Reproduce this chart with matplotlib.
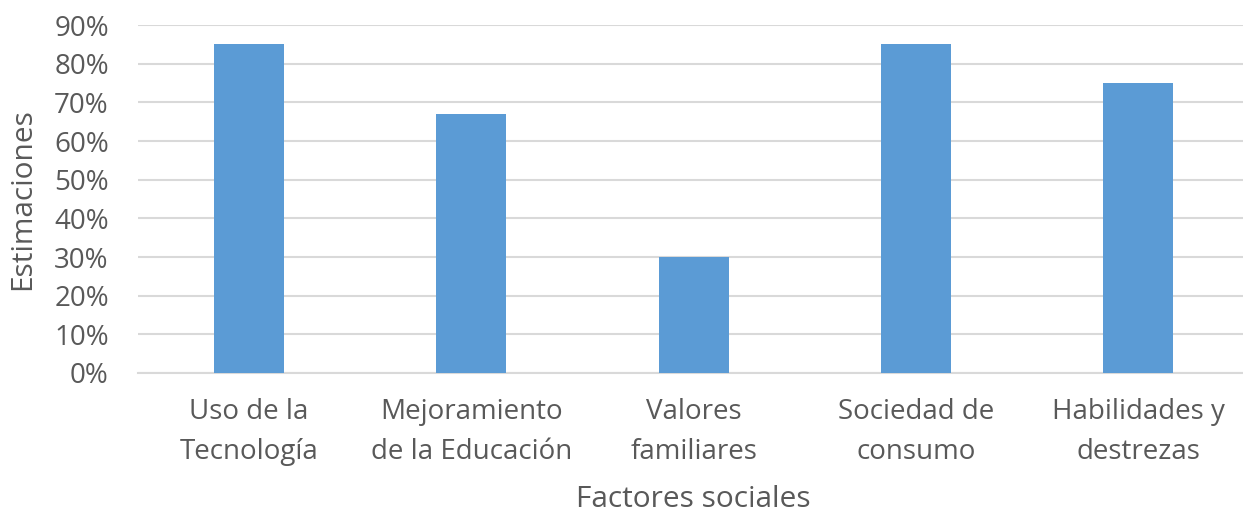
import matplotlib.pyplot as plt
from matplotlib.ticker import MultipleLocator, PercentFormatter

categorias = ['Uso de la\nTecnología', 'Mejoramiento\nde la Educación', 'Valores\nfamiliares',
              'Sociedad de\nconsumo', 'Habilidades y\ndestrezas']
estimaciones = [85, 67, 30, 85, 75]

plt.rcParams['font.family'] = ['Open Sans', 'DejaVu Sans']
TEXTO = '#595959'

fig = plt.figure(figsize=(12.43, 5.12), dpi=100)
# el eje sigue hasta el borde derecho, como en el original
ax = fig.add_axes([0.111, 0.2715, 0.894, 0.6795])

ax.bar(range(len(categorias)), estimaciones, width=0.315, color='#5b9bd5', zorder=3)

ax.set_ylim(0, 90)
ax.set_xlim(-0.5, len(categorias) - 0.5)
ax.yaxis.set_major_locator(MultipleLocator(10))
ax.yaxis.set_major_formatter(PercentFormatter(decimals=0))
ax.grid(axis='y', color='#d9d9d9', linewidth=1.5, zorder=0)
ax.set_xticks(range(len(categorias)))
ax.set_xticklabels(categorias, linespacing=1.55)
ax.tick_params(axis='both', length=0, labelsize=20, colors=TEXTO)
ax.tick_params(axis='x', pad=18)
ax.tick_params(axis='y', pad=21)
for s in ['top', 'right', 'left']:
    ax.spines[s].set_visible(False)
ax.spines['bottom'].set_color('#d9d9d9')
ax.spines['bottom'].set_linewidth(1.5)

ax.set_xlabel('Factores sociales', fontsize=21.5, color=TEXTO, labelpad=14)
ax.set_ylabel('Estimaciones', fontsize=21.5, color=TEXTO, labelpad=12)

fig.savefig('out.png')
